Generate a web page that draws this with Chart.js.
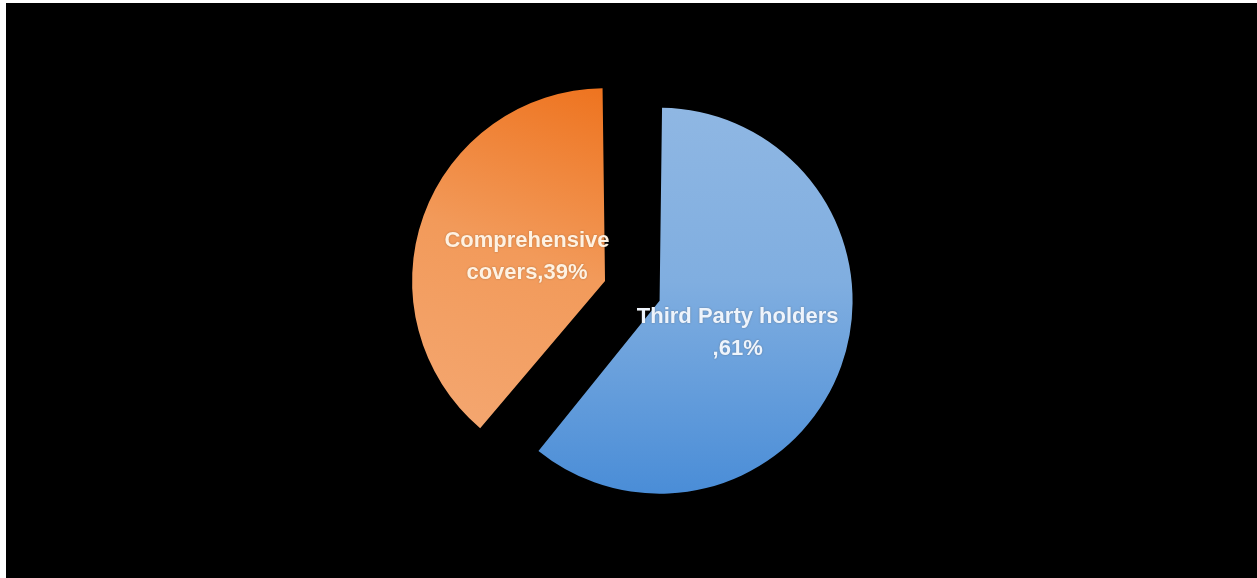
<!DOCTYPE html>
<html>
<head>
<meta charset="utf-8">
<title>Policy holders</title>
<script src="https://cdn.jsdelivr.net/npm/chart.js@4.4.1/dist/chart.umd.min.js"></script>
<style>
  html, body { margin: 0; padding: 0; background: #fff; }
  #wrap { position: absolute; left: 6px; top: 3px; width: 1251px; height: 575px; background: #000; }
</style>
</head>
<body>
<div id="wrap"><canvas id="pie"></canvas></div>
<script>
// categories and shares (percent)
const categories = ['Third Party holders ', 'Comprehensive covers'];
const shares = [61, 39];
// how far each slice is pulled out of the pie
const explode = [62, 170];

const RADIUS = 177.5;

// gradient fills, built in the arc's own (translated) frame
function sliceFill(ctx) {
  const chart = ctx.chart;
  const area = chart.chartArea;
  if (!area) return '#5B9BD5';
  const c = chart.ctx;
  const cx = (area.left + area.right) / 2;
  const cy = (area.top + area.bottom) / 2;
  const r = 193;
  let g;
  if (ctx.dataIndex === 0) {
    g = c.createLinearGradient(cx, cy - r, cx, cy + r);
    g.addColorStop(0, '#8FB7E3');
    g.addColorStop(0.45, '#80AEE0');
    g.addColorStop(1, '#4A8DD7');
  } else {
    g = c.createLinearGradient(cx - 10, cy - r, cx - 0.7 * r, cy + 0.75 * r);
    g.addColorStop(0, '#EE7420');
    g.addColorStop(0.5, '#F29A5A');
    g.addColorStop(1, '#F4A66F');
  }
  return g;
}

// "name,NN%" labels inside each slice, wrapped like the office chart does
const sliceLabels = {
  id: 'sliceLabels',
  afterDatasetsDraw(chart) {
    const ctx = chart.ctx;
    const meta = chart.getDatasetMeta(0);
    ctx.save();
    ctx.font = 'bold 22px "Liberation Sans", Arial, sans-serif';
    ctx.textAlign = 'center';
    ctx.textBaseline = 'middle';
    meta.data.forEach((arc, i) => {
      const p = arc.getProps(['x', 'y', 'startAngle', 'endAngle', 'outerRadius', 'circumference']);
      const off = explode[i] / 4;
      const fix = 1 - Math.sin(Math.min(Math.PI, p.circumference));
      const drawnR = p.outerRadius + off * fix;
      const mid = (p.startAngle + p.endAngle) / 2;
      const d = off + 0.43 * drawnR;
      const x = p.x + Math.cos(mid) * d;
      const y = p.y + Math.sin(mid) * d + 4;

      const words = (categories[i] + ',' + shares[i] + '%').split(' ');
      const lines = [];
      let line = '';
      words.forEach(w => {
        const test = line ? line + ' ' + w : w;
        if (line && ctx.measureText(test).width > 215) {
          lines.push(line);
          line = w;
        } else {
          line = test;
        }
      });
      lines.push(line);

      const lh = 31.5;
      ctx.fillStyle = i === 0 ? '#EEF4FC' : '#FFF2E2';
      ctx.shadowColor = 'rgba(60,40,20,0.35)';
      ctx.shadowBlur = 2;
      lines.forEach((t, k) => {
        ctx.fillText(t, x, y + (k - (lines.length - 1) / 2) * lh);
      });
    });
    ctx.restore();
  }
};

new Chart(document.getElementById('pie'), {
  type: 'pie',
  data: {
    labels: categories,
    datasets: [{
      data: shares,
      backgroundColor: sliceFill,
      borderWidth: 0,
      offset: explode
    }]
  },
  options: {
    responsive: true,
    maintainAspectRatio: false,
    animation: false,
    radius: RADIUS,
    layout: { padding: { left: 27, right: 0, top: 10, bottom: 0 } },
    plugins: {
      legend: { display: false },
      tooltip: { enabled: false }
    }
  },
  plugins: [sliceLabels]
});
</script>
</body>
</html>
